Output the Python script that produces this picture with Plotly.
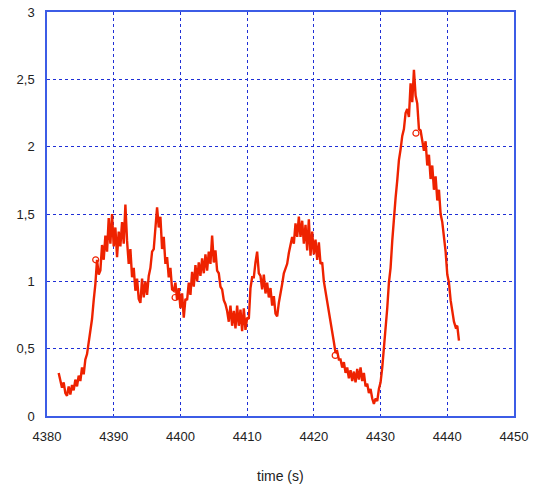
import numpy as np
import plotly.graph_objects as go

# sampling of the signal (s)
t_start = 4381.75
t_step = 0.25

signal = [
    0.32,
    0.27, 0.21, 0.25, 0.17,
    0.15, 0.22, 0.16, 0.23,
    0.19, 0.27, 0.22, 0.30,
    0.26, 0.36, 0.31, 0.42,
    0.46, 0.55, 0.60, 0.72,
    0.86, 0.98, 1.16, 1.05,
    1.08, 1.27, 1.16, 1.34,
    1.22, 1.47, 1.28, 1.50,
    1.26, 1.40, 1.18, 1.37,
    1.26, 1.44, 1.28, 1.57,
    1.30, 1.13, 1.24, 1.03,
    1.10, 0.93, 1.02, 0.87,
    0.84, 1.02, 0.88, 1.00,
    0.90, 1.04, 1.10, 1.22,
    1.24, 1.40, 1.55, 1.40,
    1.48, 1.24, 1.33, 1.13,
    1.18, 1.03, 1.10, 0.94,
    0.93, 0.99, 0.86, 0.95,
    0.80, 0.91, 0.73, 0.87,
    0.86, 0.99, 0.90, 1.07,
    0.96, 1.12, 1.00, 1.14,
    1.04, 1.17, 1.06, 1.20,
    1.08, 1.22, 1.13, 1.34,
    1.14, 1.23, 1.08, 1.06,
    0.96, 0.94, 0.86, 0.83,
    0.78, 0.70, 0.82, 0.67,
    0.78, 0.65, 0.82, 0.67,
    0.79, 0.63, 0.80, 0.64,
    0.73, 0.72, 0.95, 1.03,
    1.03, 1.14, 1.22, 1.06,
    1.04, 0.94, 1.05, 0.91,
    0.99, 0.88, 0.95, 0.82,
    0.89, 0.76, 0.74, 0.84,
    0.93, 0.98, 1.06, 1.10,
    1.13, 1.21, 1.28, 1.33,
    1.28, 1.43, 1.33, 1.48,
    1.33, 1.45, 1.28, 1.42,
    1.23, 1.46, 1.19, 1.37,
    1.20, 1.31, 1.16, 1.29,
    1.13, 1.14, 1.00, 0.93,
    0.86, 0.77, 0.70, 0.62,
    0.55, 0.47, 0.48, 0.42,
    0.42, 0.36, 0.40, 0.32,
    0.36, 0.28, 0.34, 0.26,
    0.33, 0.25, 0.35, 0.27,
    0.36, 0.26, 0.32, 0.22,
    0.24, 0.17, 0.20, 0.13,
    0.09, 0.13, 0.11, 0.20,
    0.25, 0.36, 0.50, 0.65,
    0.80, 0.99, 1.10, 1.30,
    1.50, 1.62, 1.75, 1.90,
    1.98, 2.08, 2.13, 2.25,
    2.28, 2.22, 2.47, 2.33,
    2.57, 2.38, 2.32, 2.13,
    2.12, 2.05, 1.97, 2.04,
    1.86, 1.94, 1.76, 1.86,
    1.68, 1.78, 1.60, 1.68,
    1.50, 1.44, 1.33, 1.22,
    1.05, 0.99, 0.86, 0.78,
    0.70, 0.66, 0.67, 0.56,
]

marker_times = [4387.3, 4399.2, 4423.2, 4435.3]
marker_values = [1.16, 0.88, 0.45, 2.10]

x_ticks = [4380, 4390, 4400, 4410, 4420, 4430, 4440, 4450]
y_ticks = [0, 0.5, 1, 1.5, 2, 2.5, 3]
x_title = "time (s)"

time = t_start + t_step * np.arange(len(signal))

line_color = "#ee2200"
frame_color = "#3c5ce6"
grid_color = "#1f2fd6"

fig = go.Figure()
fig.add_trace(go.Scatter(x=time, y=signal, mode="lines",
                         line=dict(color=line_color, width=2.4),
                         showlegend=False, hoverinfo="skip"))
fig.add_trace(go.Scatter(x=marker_times, y=marker_values, mode="markers",
                         marker=dict(symbol="circle-open", size=6,
                                     color=line_color, line=dict(width=1.2)),
                         showlegend=False, hoverinfo="skip"))

fig.update_layout(
    width=541, height=486,
    margin=dict(l=47, r=27, t=12, b=70, autoexpand=False),
    paper_bgcolor="white", plot_bgcolor="white",
    separators=",.",
    font=dict(family="Liberation Sans, Arial, sans-serif", size=13, color="#222222"),
    annotations=[dict(text=x_title, xref="paper", yref="paper", x=0.5, y=-0.1485,
                      xanchor="center", yanchor="middle", showarrow=False,
                      font=dict(size=14, color="#222222"))],
)
fig.update_xaxes(
    range=[4380, 4450], tickvals=x_ticks, automargin=False,
    showgrid=True, gridcolor=grid_color, griddash="dot", gridwidth=1,
    showline=True, linecolor=frame_color, linewidth=1.5, mirror=True,
    zeroline=False, ticks="", ticklabelstandoff=8,
)
fig.update_yaxes(
    range=[0, 3], tickvals=y_ticks, automargin=False,
    showgrid=True, gridcolor=grid_color, griddash="dot", gridwidth=1,
    showline=True, linecolor=frame_color, linewidth=1.5, mirror=True,
    zeroline=False, ticks="", ticklabelstandoff=8,
)

fig.write_html("out.html", config={"displayModeBar": False},
               post_script="document.body.style.margin='0';document.body.style.overflow='hidden';")
